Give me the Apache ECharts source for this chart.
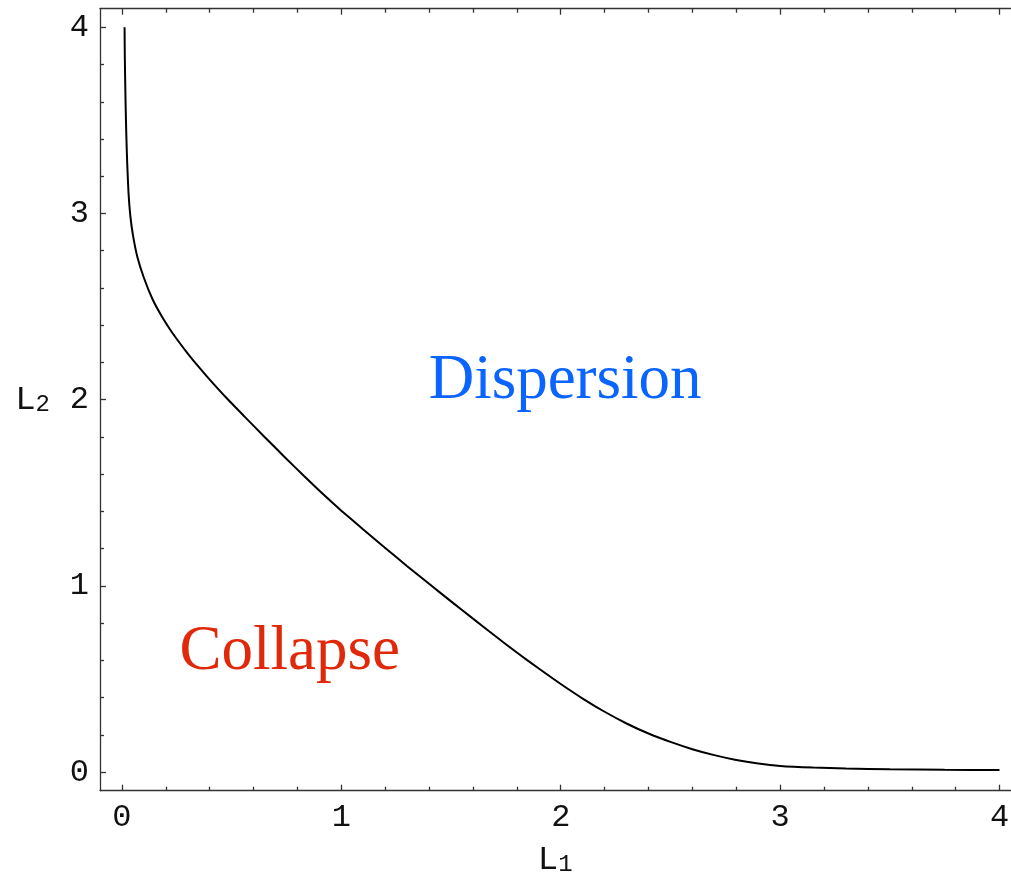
<!DOCTYPE html>
<html>
<head>
<meta charset="utf-8">
<script src="https://cdn.jsdelivr.net/npm/echarts@6/dist/echarts.min.js"></script>
<style>html,body{margin:0;padding:0;background:#fff;overflow:hidden}#c{width:1011px;height:877px}</style>
</head>
<body>
<div id="c"></div>
<script>
// Boundary curve (L1, L2)
const boundaryL1 = [0.012,0.013,0.015,0.017,0.020,0.024,0.030,0.038,0.050,0.070,0.100,0.140,0.180,0.220,0.260,0.300,0.350,0.400,0.480,0.560,0.650,0.740,0.830,0.920,1.000,1.100,1.200,1.300,1.400,1.500,1.600,1.700,1.800,1.900,2.000,2.100,2.200,2.300,2.400,2.500,2.600,2.700,2.800,2.900,3.000,3.150,3.300,3.500,3.750,4.000];
const boundaryL2 = [4.000,3.850,3.700,3.570,3.420,3.270,3.110,2.990,2.885,2.768,2.655,2.538,2.451,2.376,2.310,2.248,2.176,2.108,2.005,1.908,1.800,1.694,1.590,1.489,1.404,1.303,1.204,1.106,1.011,0.917,0.824,0.732,0.642,0.556,0.473,0.395,0.324,0.261,0.207,0.162,0.123,0.091,0.065,0.046,0.033,0.024,0.019,0.015,0.012,0.011];

const majorTicks = [0, 1, 2, 3, 4];
const minorTicks = [0.2,0.4,0.6,0.8,1.2,1.4,1.6,1.8,2.2,2.4,2.6,2.8,3.2,3.4,3.6,3.8];

const regionNames = ['Dispersion', 'Collapse'];
const regionPos = [[2.02, 2.1], [0.765, 0.645]];
const regionColors = ['#0a64ff', '#e0280a'];

const xRange = [-0.1, 4.05];
const yRange = [-0.1, 4.1];

const tickFont = 'Liberation Mono';
const axisColor = '#333';

function makeAxis(position, values, len, showLabel, showLine, range) {
  return {
    type: 'value', position: position, min: range[0], max: range[1],
    axisLine: { show: showLine, onZero: false, lineStyle: { color: axisColor, width: 1.3 } },
    axisTick: { show: true, inside: true, length: len, customValues: values, lineStyle: { color: axisColor, width: 1.3 } },
    axisLabel: { show: showLabel, customValues: values, fontFamily: tickFont, fontSize: 32, color: '#111', margin: 11 },
    splitLine: { show: false }
  };
}

const nameRich = {
  a: { fontFamily: tickFont, fontSize: 34, color: '#111', lineHeight: 34 },
  b: { fontFamily: tickFont, fontSize: 24, color: '#111', lineHeight: 22, verticalAlign: 'bottom', padding: [12, 0, 0, 0] }
};

const xMain = makeAxis('bottom', majorTicks, 6, true, true, xRange);
xMain.name = '{a|L}{b|1}';
xMain.nameLocation = 'middle';
xMain.nameGap = 52;
xMain.nameTextStyle = { rich: nameRich };

const yMain = makeAxis('left', majorTicks, 6, true, true, yRange);
yMain.name = '{a|L}{b|2}';
yMain.nameLocation = 'middle';
yMain.nameRotate = 0;
yMain.nameGap = 50;
yMain.nameTextStyle = { rich: nameRich };

const option = {
  animation: false,
  backgroundColor: '#fff',
  grid: { left: 100, top: 8.7, right: 0.5, bottom: 86.3, containLabel: false, outerBoundsMode: 'none' },
  xAxis: [
    xMain,
    makeAxis('bottom', minorTicks, 4, false, false, xRange),
    makeAxis('top', majorTicks, 6, false, true, xRange),
    makeAxis('top', minorTicks, 4, false, false, xRange)
  ],
  yAxis: [
    yMain,
    makeAxis('left', minorTicks, 4, false, false, yRange)
  ],
  series: [
    {
      type: 'line', xAxisIndex: 0, yAxisIndex: 0,
      data: boundaryL1.map((v, i) => [v, boundaryL2[i]]),
      showSymbol: false, smooth: 0.2,
      lineStyle: { color: '#000', width: 2 }
    },
    {
      type: 'scatter', xAxisIndex: 0, yAxisIndex: 0, symbolSize: 1,
      itemStyle: { color: 'rgba(0,0,0,0)' },
      data: regionNames.map((n, i) => ({ name: n, value: regionPos[i],
        label: { show: true, position: 'inside', formatter: n, color: regionColors[i],
          textBorderWidth: 0, textBorderColor: 'transparent', opacity: 1,
          fontFamily: 'Liberation Serif', fontSize: 63 } })),
      silent: true
    }
  ]
};

const chart = echarts.init(document.getElementById('c'), null, { renderer: 'canvas' });
chart.setOption(option);
</script>
</body>
</html>
